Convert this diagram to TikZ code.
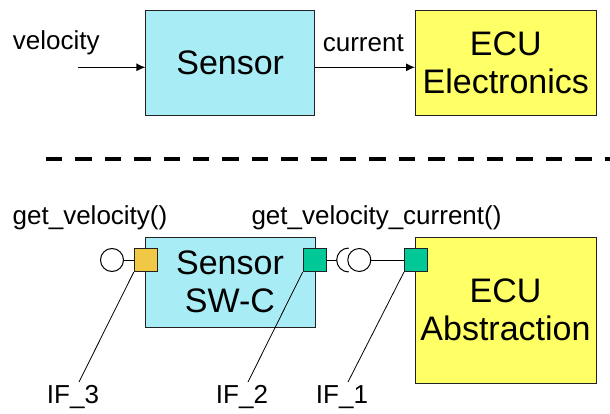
\documentclass[tikz,border=0pt]{standalone}
\usepackage{fontspec}
\setmainfont{Liberation Sans}
\usetikzlibrary{arrows.meta}
\definecolor{swcyan}{HTML}{A8ECF5}
\definecolor{ecuyel}{HTML}{FFFF66}
\definecolor{portyel}{HTML}{F0C846}
\definecolor{portgrn}{HTML}{00C896}
\definecolor{edge}{HTML}{222222}
\tikzset{
  bigbox/.style={draw=edge, line width=1pt, inner sep=0pt, align=center,
    font=\fontsize{34}{38}\selectfont},
  lbl/.style={inner sep=0pt, font=\fontsize{26}{30}\selectfont},
  port/.style={draw=edge, line width=1pt, minimum size=23pt, inner sep=0pt},
  ball/.style={circle, draw=black, line width=1pt, fill=white, minimum size=23pt, inner sep=0pt},
  flow/.style={line width=1.2pt, -{Latex[length=9pt,width=8pt]}},
  wire/.style={line width=1pt},
  leader/.style={line width=0.8pt}
}
\begin{document}
\begin{tikzpicture}[x=1pt,y=-1pt]
\useasboundingbox (0,0) rectangle (610,414);
% top row
\node[bigbox, fill=swcyan, minimum width=168.5pt, minimum height=105pt] (sensT) at (230.2,63) {Sensor};
\node[bigbox, fill=ecuyel, minimum width=180.5pt, minimum height=105pt] (ecuT) at (505.8,63) {ECU\\Electronics};
\node[lbl] (vel) at (56.3,42.8) {velocity};
\node[lbl] (cur) at (363.3,42.8) {current};
\coordinate (vin) at (77.8,67.3);
\draw[flow] (vin) -- (vin -| sensT.west);
\draw[flow] (vin -| sensT.east) -- (vin -| ecuT.west);
% separator
\coordinate (dl) at (46,158.7);
\coordinate (dr) at (610,158.7);
\draw[line width=4.2pt, dash pattern=on 16.3pt off 13.1pt] (dl) -- (dr);
% bottom row
\node[bigbox, fill=swcyan, minimum width=170pt, minimum height=90pt] (swc) at (230,282) {Sensor\\SW-C};
\node[bigbox, fill=ecuyel, minimum width=181pt, minimum height=146pt] (ecuA) at (505.5,310) {ECU\\Abstraction};
\node[port, fill=portyel] (p3) at (145.8,260) {};
\node[port, fill=portgrn] (p2) at (314.7,260) {};
\node[port, fill=portgrn] (p1) at (416,260) {};
\node[ball] (b3) at (112,260) {};
\node[ball] (b1) at (359.3,260) {};
\coordinate (sockL) at (336.7,260);
\coordinate (sockC) at (348.7,260);
\draw[wire] (b3.east) -- (p3.west);
\draw[wire] (p2.east) -- (sockL);
\draw[wire] ([shift={(90:12)}]sockC) arc (90:270:12);
\draw[wire] (b1.east) -- (p1.west);
\node[lbl] (gv) at (90,218) {get\_velocity()};
\node[lbl] (gvc) at (376.5,218) {get\_velocity\_current()};
% interface leaders
\node[lbl] (if3) at (73,397) {IF\_3};
\node[lbl] (if2) at (242,397) {IF\_2};
\node[lbl] (if1) at (342,397) {IF\_1};
\coordinate (t3) at (79,382);
\coordinate (t2) at (248,382);
\coordinate (t1) at (348,382);
\draw[leader] (p3.south west) -- (t3);
\draw[leader] (p2.south west) -- (t2);
\draw[leader] (p1.south west) -- (t1);
\end{tikzpicture}
\end{document}
